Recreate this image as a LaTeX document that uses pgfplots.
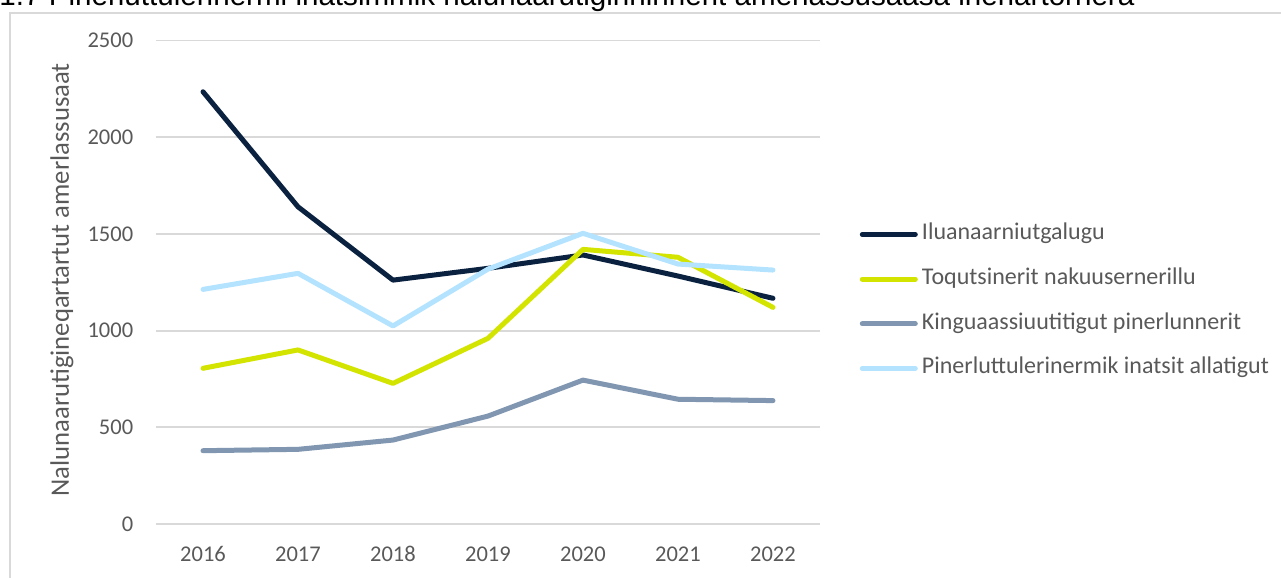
\documentclass[border=0pt]{standalone}
\usepackage{fontspec}
\setmainfont{Carlito}
\newfontfamily\titlefont{Liberation Sans}
\usepackage{pgfplots}
\pgfplotsset{compat=1.18}
\definecolor{cnavy}{HTML}{0A2240}
\definecolor{clime}{HTML}{D3E400}
\definecolor{cgrey}{HTML}{8096B1}
\definecolor{clight}{HTML}{B4E3FF}
\definecolor{gridc}{HTML}{D9D9D9}
\definecolor{labc}{HTML}{595959}
\begin{document}
\begin{tikzpicture}
\useasboundingbox (0,0) rectangle (768.6pt,346.8pt);
\clip (0,0) rectangle (768.6pt,346.8pt);
% title, cut at the top as in the source
\node[anchor=base west, inner sep=0pt] at (-0.5pt,343.2pt)
  {\resizebox{681pt}{!}{\titlefont 1.7 Pinerluttulerinermi inatsimmik nalunaarutiginninnerit amerlassusaasa ineriartornera}};
\draw[gridc, line width=1pt] (6pt,-2pt) -- (6pt,339pt) -- (772pt,339pt);
\begin{axis}[
  at={(93.3pt,32.4pt)}, anchor=south west,
  scale only axis, width=399pt, height=290.1pt,
  xmin=2015.5, xmax=2022.5, ymin=0, ymax=2500,
  xtick={2016,...,2022}, ytick={0,500,...,2500},
  axis line style={draw=none},
  major tick length=0pt,
  ymajorgrids, grid style={gridc, line width=1.1pt},
  tick label style={font=\fontsize{13.5}{15}\selectfont, text=labc},
  /pgf/number format/assume math mode=true,
  /pgf/number format/set thousands separator={},
  yticklabel style={anchor=east, inner sep=0pt, xshift=-13.2pt},
  xticklabel style={anchor=base, inner sep=0pt, yshift=-22.8pt},
  ylabel={Nalunaarutigineqartartut amerlassusaat},
  every axis y label/.style={at={(axis description cs:-0.1406,0.505)}, rotate=90, anchor=center,
    font=\fontsize{16}{18}\selectfont, text=labc},
  legend cell align=left,
  legend image code/.code={\draw[#1] (0pt,0pt) -- (31.8pt,0pt);},
  legend style={at={(axis description cs:1.0586,0.4602)}, anchor=west,
    draw=none, fill=none, inner sep=0pt, column sep=2.5pt, row sep=13.3pt,
    font=\fontsize{14.4}{16}\selectfont, text=labc,
    nodes={inner sep=0pt, text height=10pt, text depth=3.5pt}},
  every axis plot/.append style={line width=3pt, line cap=round, line join=round},
]
\addplot[cnavy] coordinates {(2016,2235) (2017,1640) (2018,1261) (2019,1322) (2020,1391) (2021,1282) (2022,1167)};
\addplot[clime] coordinates {(2016,805) (2017,900) (2018,727) (2019,960) (2020,1420) (2021,1379) (2022,1120)};
\addplot[cgrey] coordinates {(2016,379) (2017,386) (2018,434) (2019,558) (2020,744) (2021,645) (2022,638)};
\addplot[clight] coordinates {(2016,1213) (2017,1296) (2018,1024) (2019,1318) (2020,1503) (2021,1344) (2022,1313)};
\legend{Iluanaarniutgalugu, Toqutsinerit nakuusernerillu, Kinguaassiuutitigut pinerlunnerit, Pinerluttulerinermik inatsit allatigut}
\end{axis}
\end{tikzpicture}
\end{document}
